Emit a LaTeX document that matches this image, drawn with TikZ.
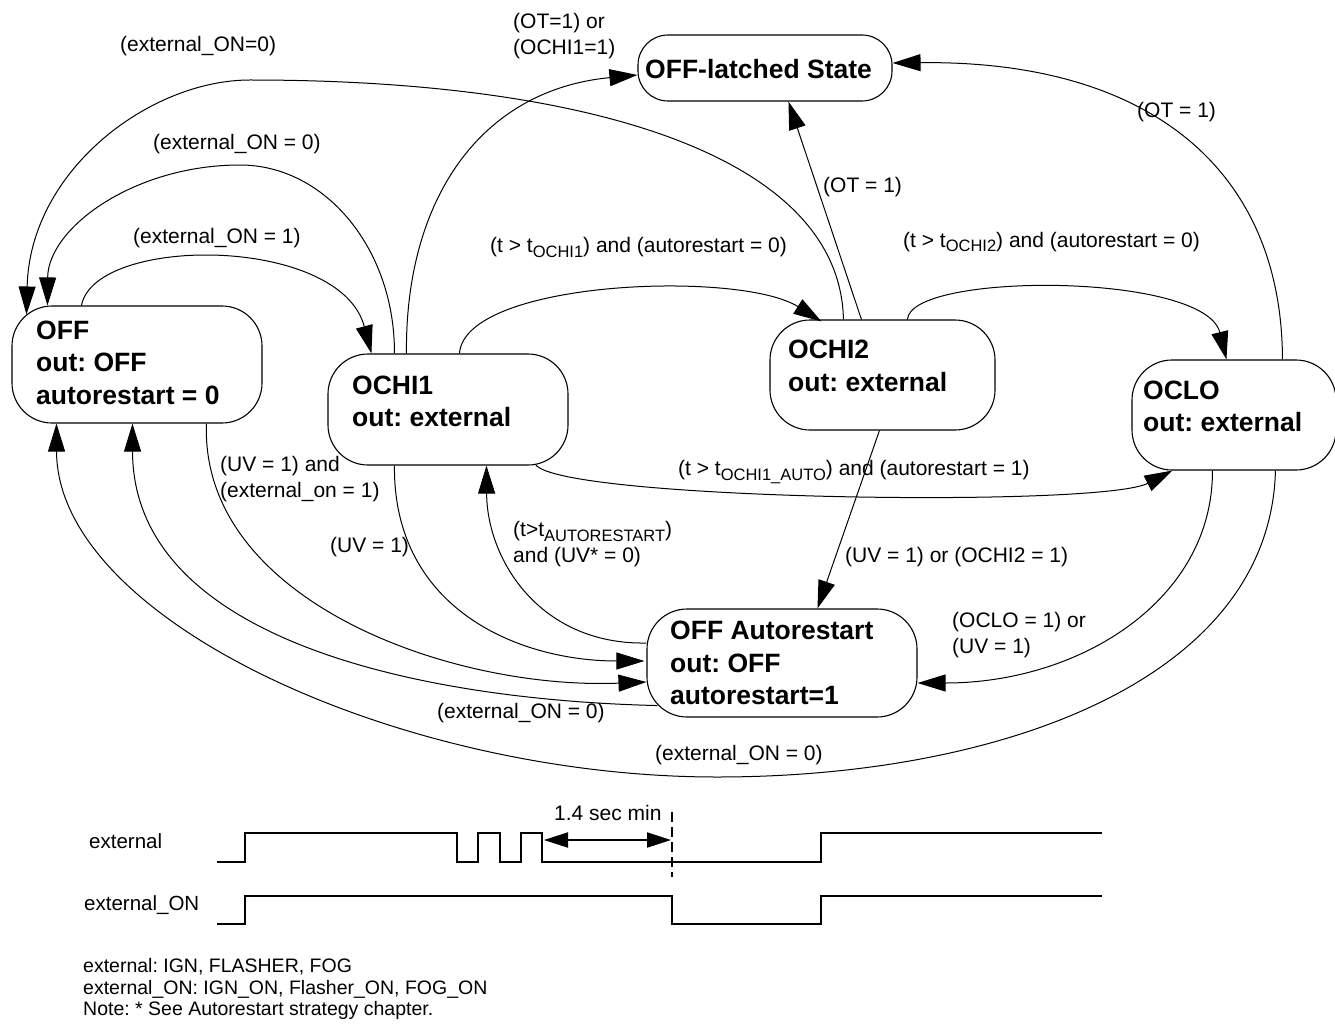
\documentclass[tikz,border=0pt]{standalone}
\usepackage{fontspec}
\setmainfont{Liberation Sans}
\usetikzlibrary{arrows.meta,calc}
\newcommand\lsub[1]{\raisebox{-5pt}{\fontsize{16.5}{18}\selectfont #1}}
\frenchspacing
\begin{document}
\begin{tikzpicture}[x=1pt,y=-1pt,
  statebox/.style={draw, line width=1.1pt, rounded corners=40pt, inner sep=0pt},
  stxt/.style={font=\fontsize{26.5}{32.5}\selectfont\bfseries, align=left, inner sep=0pt, anchor=west},
  lbl/.style={font=\fontsize{21}{26}\selectfont, align=left, inner sep=0pt, anchor=west},
  lblb/.style={font=\fontsize{21}{26}\selectfont, inner sep=0pt, anchor=base west},
  tlbl/.style={font=\fontsize{20.5}{21}\selectfont, align=left, inner sep=0pt, anchor=west},
  edge/.style={line width=1pt, -{Triangle[length=28pt,width=17pt]}},
  sig/.style={line width=2.2pt, line join=miter},
]
\useasboundingbox (0,0) rectangle (1335,1027);

% ---------- states ----------
\node[statebox, minimum width=250pt, minimum height=117pt] (off) at (137,364.5) {};
\node[stxt] (offT) at (36,362.5) {OFF\\out: OFF\\autorestart = 0};

\node[statebox, minimum width=240pt, minimum height=111pt] (ochi1) at (448,409.5) {};
\node[stxt] (ochi1T) at (352,401.5) {OCHI1\\out: external};

\node[statebox, minimum width=225pt, minimum height=110pt] (ochi2) at (882.5,375) {};
\node[stxt] (ochi2T) at (788,366) {OCHI2\\out: external};

\node[statebox, minimum width=204pt, minimum height=110pt] (oclo) at (1234,415) {};
\node[stxt] (ocloT) at (1143,406.5) {OCLO\\out: external};

\node[statebox, rounded corners=30pt, minimum width=254pt, minimum height=66pt] (latched) at (765,68) {};
\node[stxt] (latchedT) at (645,68.8) {OFF-latched State};

\node[statebox, minimum width=270pt, minimum height=108pt] (ar) at (782,663) {};
\node[stxt] (arT) at (670,663.3) {OFF Autorestart\\out: OFF\\autorestart=1};

% ---------- transitions ----------
% OFF -> OCHI1
\draw[edge] ($(off.north west)+(70,0)$) .. controls (95,235) and (340,235) .. ($(ochi1.north west)+(44,0)$);
% OCHI1 -> OFF
\draw[edge] ($(ochi1.north west)+(67,0)$) .. controls (395,250) and (326,165) .. (240,165)
  .. controls (134,165) and (48,228) .. ($(off.north west)+(36,0)$);
% OCHI2 -> OFF
\draw[edge] ($(ochi2.north west)+(74,0)$) .. controls (840,160) and (600,80) .. (250,80)
  .. controls (150,80) and (30,170) .. ($(off.north west)+(15,9)$);
% OCHI1 -> latched
\draw[edge] ($(ochi1.north west)+(79,0)$) .. controls (405,200) and (480,90) .. ($(latched.west)+(0,7)$);
% OCHI2 -> latched
\draw[edge] ($(ochi2.north west)+(92,0)$) -- ($(latched.south west)+(151,0)$);
% OCLO -> latched
\draw[edge] ($(oclo.north west)+(151,0)$) .. controls (1282,170) and (1150,60) .. ($(latched.east)+(0,-5)$);
% OCHI1 -> OCHI2
\draw[edge] ($(ochi1.north west)+(132,0)$) .. controls (465,280) and (740,270) .. ($(ochi2.north west)+(52,2)$);
% OCHI2 -> OCLO
\draw[edge] ($(ochi2.north west)+(138,0)$) .. controls (910,272) and (1205,272) .. ($(oclo.north west)+(95,0)$);
% OCHI1 -> OCLO
\draw[edge] ($(ochi1.south east)+(-33,-1)$) .. controls (560,500) and (1100,508) .. ($(oclo.south west)+(41,0)$);
% OCHI2 -> Autorestart
\draw[edge] ($(ochi2.south west)+(110,0)$) -- ($(ar.north west)+(171,0)$);
% OCLO -> Autorestart
\draw[edge] ($(oclo.south west)+(81,0)$) .. controls (1213,600) and (1080,683) .. ($(ar.east)+(0,20)$);
% OCLO -> OFF
\draw[edge] ($(oclo.south west)+(144,0)$) .. controls (1270,680) and (1000,777) .. (717,777)
  .. controls (400,777) and (57,620) .. ($(off.south west)+(45,0)$);
% Autorestart -> OFF
\draw[edge] ($(ar.south west)+(11,-12)$) .. controls (420,700) and (133,640) .. ($(off.south west)+(121,0)$);
% OFF -> Autorestart
\draw[edge] ($(off.south west)+(195,0)$) .. controls (200,600) and (450,690) .. ($(ar.west)+(0,19)$);
% Autorestart -> OCHI1
\draw[edge] ($(ar.west)+(0,-20)$) .. controls (540,645) and (487,560) .. ($(ochi1.south west)+(159,0)$);
% OCHI1 -> Autorestart
\draw[edge] ($(ochi1.south west)+(67,0)$) .. controls (393,610) and (520,661) .. ($(ar.west)+(-2,-2)$);

% ---------- labels ----------
\node[lbl] (l1) at (120,46) {(external\_ON=0)};
\node[lbl] (l2) at (153,144) {(external\_ON = 0)};
\node[lbl] (l3) at (133,238) {(external\_ON = 1)};
\node[lbl] (l4) at (513,36.5) {(OT=1) or\\(OCHI1=1)};
\node[lbl] (l5) at (823,187) {(OT = 1)};
\node[lbl] (l6) at (1137,112) {(OT = 1)};
\node[lblb] (l7) at (490,252) {(t > t\lsub{OCHI1}) and (autorestart = 0)};
\node[lblb] (l8) at (903,247) {(t > t\lsub{OCHI2}) and (autorestart = 0)};
\node[lblb] (l9) at (678,475) {(t > t\lsub{OCHI1\_AUTO}) and (autorestart = 1)};
\node[lbl] (l10) at (220,479) {(UV = 1) and\\(external\_on = 1)};
\node[lbl] (l11) at (330,547) {(UV = 1)};
\node[lbl] (l12) at (513,544) {(t>t\lsub{AUTORESTART})\\and (UV* = 0)};
\node[lbl] (l13) at (845,557) {(UV = 1) or (OCHI2 = 1)};
\node[lbl] (l14) at (952,635) {(OCLO = 1) or\\(UV = 1)};
\node[lbl] (l15) at (437,713) {(external\_ON = 0)};
\node[lbl] (l16) at (655,755) {(external\_ON = 0)};

% ---------- timing diagram ----------
\node[tlbl] (tExt) at (89,841) {external};
\node[tlbl] (tExtOn) at (84,905) {external\_ON};
\draw[sig] (217,862) -- (245,862) -- (245,833) -- (457,833) -- (457,862) -- (478,862) -- (478,833)
  -- (500,833) -- (500,862) -- (521,862) -- (521,833) -- (542,833) -- (542,862) -- (821,862)
  -- (821,833) -- (1102,833);
\draw[sig] (217,924) -- (245,924) -- (245,896) -- (672,896) -- (672,924) -- (821,924) -- (821,896) -- (1102,896);
\draw[line width=2pt, dash pattern=on 10pt off 5pt] (672,812) -- (672,877);
\draw[line width=2pt, {Triangle[length=24pt,width=15pt]}-{Triangle[length=24pt,width=15pt]}] (544,840) -- (671,840);
\node[tlbl, font=\fontsize{21}{22}\selectfont] (tSec) at (554,813) {1.4 sec min};
\node[tlbl, font=\fontsize{19.5}{21.5}\selectfont] (tNotes) at (83,989)
  {external: IGN, FLASHER, FOG\\external\_ON: IGN\_ON, Flasher\_ON, FOG\_ON\\Note: * See Autorestart strategy chapter.};
\end{tikzpicture}
\end{document}
